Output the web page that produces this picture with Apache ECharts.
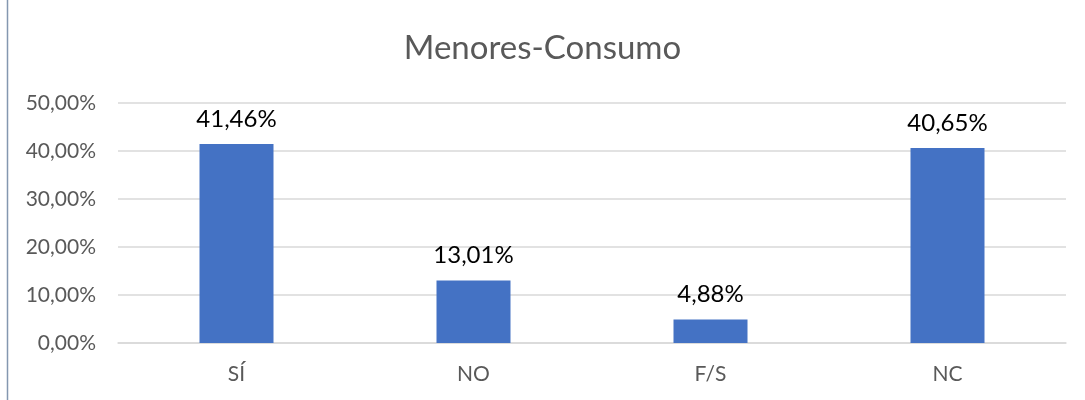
<!DOCTYPE html>
<html>
<head>
<meta charset="utf-8">
<script src="https://cdn.jsdelivr.net/npm/echarts@6/dist/echarts.min.js"></script>
<style>
html,body{margin:0;padding:0;background:#fff}
#main{width:1085px;height:400px}
</style>
</head>
<body>
<div id="main"></div>
<script>
const categories=['SÍ','NO','F/S','NC']
const values=[41.46,13.01,4.88,40.65]
const fmt=v=>v.toFixed(2).replace('.',',')

const chartDom=document.getElementById('main')
let myChart=echarts.init(chartDom)
let option;
option={
    textStyle:{fontFamily:'Lato'},
    title:{
        text:'Menores-Consumo',
        left:'center',
        top:27,
        textStyle:{fontSize:33,fontWeight:'normal',color:'#595959',fontFamily:'Lato'}
    },
    graphic:[{
        type:'line',
        shape:{x1:7.5,y1:0,x2:7.5,y2:400},
        style:{stroke:'#8497b0',lineWidth:1.5}
    }],
    grid:{left:118,right:19,top:103,bottom:57},
    xAxis:{
        type:'category',
        data:categories,
        axisLine:{lineStyle:{color:'#d9d9d9',width:1.5}},
        axisTick:{show:false},
        axisLabel:{color:'#595959',fontSize:21,margin:21}
    },
    yAxis:{
        type:'value',
        min:0,max:50,interval:10,
        axisLine:{show:false},
        axisTick:{show:false},
        splitLine:{lineStyle:{color:'#d9d9d9',width:1.5}},
        axisLabel:{color:'#595959',fontSize:21,margin:22,formatter:v=>fmt(v)+'%'}
    },
    series:[{
        type:'bar',
        data:values,
        barWidth:74,
        itemStyle:{color:'#4472c4'},
        label:{show:true,position:'top',distance:13,color:'#000',fontSize:24,formatter:p=>fmt(p.value)+'%'}
    }]
}

option && myChart.setOption(option);
</script>
</body>
</html>
